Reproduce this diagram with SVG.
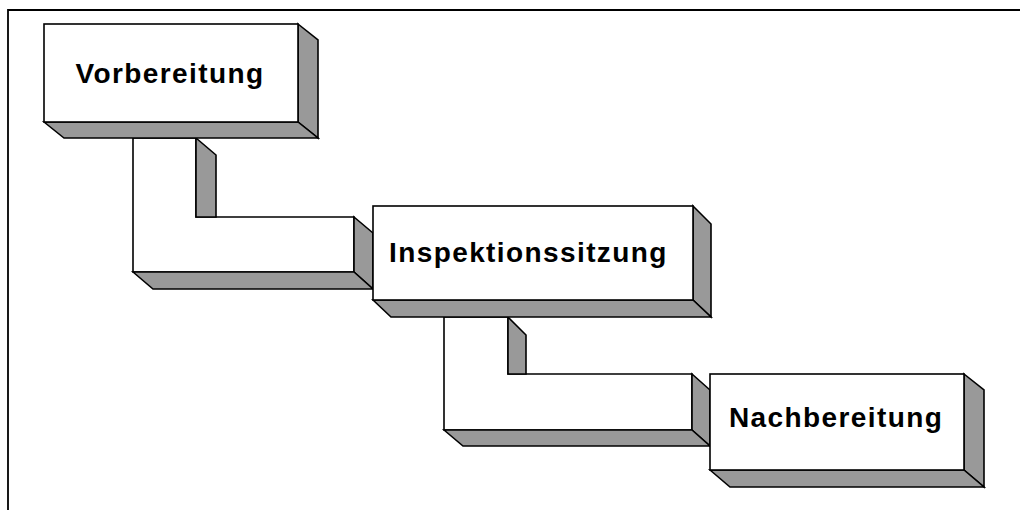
<svg xmlns="http://www.w3.org/2000/svg" width="1020" height="510" viewBox="0 0 1020 510">
  <style>
    .front { fill: #ffffff; stroke: #000000; stroke-width: 1.6; stroke-linejoin: miter; }
    .side { fill: #999999; stroke: #000000; stroke-width: 1.6; stroke-linejoin: miter; }
    .frame { fill: none; stroke: #000000; stroke-width: 1.8; }
    .label { font-family: "Liberation Sans", Arial, sans-serif; font-weight: bold; font-size: 28px; letter-spacing: 1.4px; fill: #000000; }
  </style>
  <rect x="0" y="0" width="1020" height="510" fill="#ffffff"/>
  <path class="frame" d="M8,510 L8,10 L1020,10"/>

  <g id="connectors">
    <g id="connector-1">
      <polygon class="front" points="133,138 196,138 196,217 354,217 354,272 133,272"/>
      <polygon class="side" points="196,138 216,155 216,217 196,217"/>
      <polygon class="side" points="354,217 373,233 373,289 354,272"/>
      <polygon class="side" points="133,272 153,289 373,289 354,272"/>
    </g>
    <g id="connector-2">
      <polygon class="front" points="444,317 508,317 508,374 692,374 692,430 444,430"/>
      <polygon class="side" points="508,317 526,335 526,374 508,374"/>
      <polygon class="side" points="692,374 710,390 710,446 692,430"/>
      <polygon class="side" points="444,430 463,446 710,446 692,430"/>
    </g>
  </g>

  <g id="node-vorbereitung">
    <polygon class="side" points="298,24 318,40 318,138 298,122"/>
    <polygon class="side" points="44,122 64,138 318,138 298,122"/>
    <rect class="front" x="44" y="24" width="254" height="98"/>
    <text class="label" x="75.5" y="82.5">Vorbereitung</text>
  </g>

  <g id="node-inspektionssitzung">
    <polygon class="side" points="693,206 711,224 711,317 693,300"/>
    <polygon class="side" points="373,300 391,317 711,317 693,300"/>
    <rect class="front" x="373" y="206" width="320" height="94"/>
    <text class="label" x="389" y="262">Inspektionssitzung</text>
  </g>

  <g id="node-nachbereitung">
    <polygon class="side" points="964,374 984,390 984,487 964,470"/>
    <polygon class="side" points="710,470 730,487 984,487 964,470"/>
    <rect class="front" x="710" y="374" width="254" height="96"/>
    <text class="label" x="729" y="427">Nachbereitung</text>
  </g>
</svg>
